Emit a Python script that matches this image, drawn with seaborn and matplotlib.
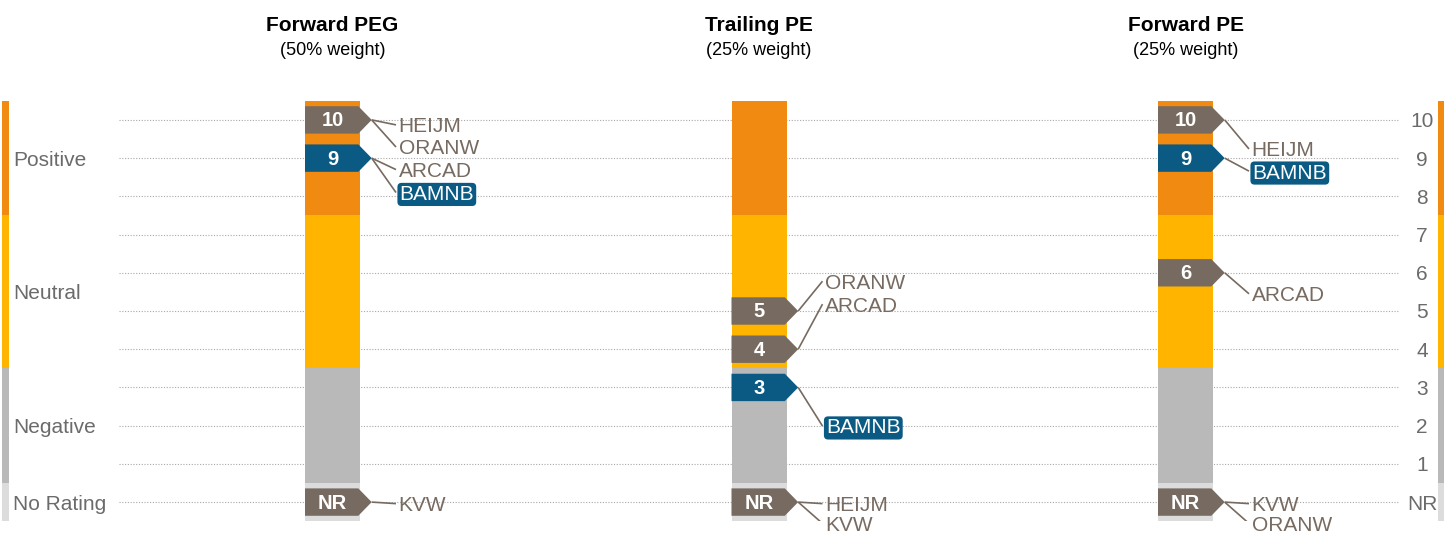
import matplotlib.pyplot as plt
import numpy as np
import pandas as pd
import seaborn as sns
from matplotlib.path import Path

sns.set_theme(style="white")
plt.rcParams["font.family"] = ["Liberation Sans", "DejaVu Sans"]

columns = ["Forward PEG", "Trailing PE", "Forward PE"]
weights = ["(50% weight)", "(25% weight)", "(25% weight)"]

bands = ["No Rating", "Negative", "Neutral", "Positive"]
band_lo = [-0.5, 0.5, 3.5, 7.5]
band_hi = [0.5, 3.5, 7.5, 10.5]
band_colors = ["#dcdcdc", "#b9b9b9", "#ffb400", "#f08a10"]

score_ticks = ["NR", "1", "2", "3", "4", "5", "6", "7", "8", "9", "10"]

# score of each ticker per metric, 0 = not rated
tickers = ["HEIJM", "ORANW", "ARCAD", "BAMNB", "KVW"]
forward_peg = [10, 10, 9, 9, 0]
trailing_pe = [0, 5, 4, 3, 0]
forward_pe = [10, 0, 6, 9, 0]
highlight = "BAMNB"

# where the name labels sit (y, in score units) - layout only
label_y = [
    {"HEIJM": 9.87, "ORANW": 9.29, "ARCAD": 8.70, "BAMNB": 8.10, "KVW": -0.04},
    {"ORANW": 5.78, "ARCAD": 5.18, "BAMNB": 1.99, "HEIJM": -0.04, "KVW": -0.56},
    {"HEIJM": 9.24, "BAMNB": 8.66, "ARCAD": 5.45, "KVW": -0.04, "ORANW": -0.56},
]

brown = "#776a60"
blue = "#0b5a84"
text_grey = "#6b6b6b"

px = 426.5  # pixels per column unit
xmin, xmax = -332.5 / px, (1444 - 332.5) / px
dy = 0.05  # nudge so capitals sit centred on their line

fig = plt.figure(figsize=(14.44, 5.34), dpi=100)
ax = fig.add_axes([0, 12.8 / 534, 1, 420.4 / 534])

ax.hlines(range(0, 11), -0.5, 2.5, colors="#a8a8a8", linestyles=(0, (1, 1.5)),
          linewidth=0.8, zorder=0)

for lo, hi, c in zip(band_lo, band_hi, band_colors):
    sns.barplot(x=[0, 1, 2], y=[hi - lo] * 3, bottom=lo, native_scale=True,
                width=55 / px, color=c, saturation=1, errorbar=None,
                linewidth=0, zorder=1, ax=ax)
    # colour key strips at both edges
    ax.bar([xmin + 2 / px, xmax - 6 / px], hi - lo, bottom=lo, width=6.5 / px,
           align="edge", color=c, linewidth=0, clip_on=False)

for lab, lo, hi in zip(bands, band_lo, band_hi):
    ax.text(xmin + 13 / px, (lo + hi) / 2 - dy, lab, ha="left", va="center",
            fontsize=15, color=text_grey)

for v, lab in enumerate(score_ticks):
    ax.text((1422 - 332.5) / px, v - dy, lab, ha="center", va="center",
            fontsize=15, color=text_grey)

for i, (col, w) in enumerate(zip(columns, weights)):
    ax.text(i, 12.48, col, ha="center", va="center", fontsize=15,
            fontweight="bold", color="black", clip_on=False)
    ax.text(i, 11.82, w, ha="center", va="center", fontsize=13,
            color="black", clip_on=False)

# arrow-shaped markers
arrow = Path([(-27.5, 13.7), (25.8, 13.7), (39.2, 0), (25.8, -13.7),
              (-27.5, -13.7), (-27.5, 13.7)], closed=True)
size_pt = 2 * 39.2 * 0.72

scores = pd.DataFrame({"ticker": tickers, columns[0]: forward_peg,
                       columns[1]: trailing_pe, columns[2]: forward_pe})
scores = scores.melt(id_vars="ticker", var_name="metric", value_name="score")
scores["col"] = scores["metric"].map({c: i for i, c in enumerate(columns)})
marks = scores.groupby(["col", "score"])["ticker"].apply(list).reset_index()
marks["kind"] = np.where(marks["ticker"].apply(lambda t: highlight in t),
                         "hi", "other")

sns.scatterplot(data=marks, x="col", y="score", hue="kind",
                palette={"hi": blue, "other": brown}, marker=arrow,
                s=size_pt ** 2, linewidth=0, legend=False, zorder=3, ax=ax)

for _, r in marks.iterrows():
    ax.text(r["col"], r["score"] - dy / 2,
            "NR" if r["score"] == 0 else str(r["score"]),
            ha="center", va="center", fontsize=14.5, fontweight="bold",
            color="white", zorder=4)

tip = 39.2 / px
for _, r in scores.iterrows():
    i, s, t = r["col"], r["score"], r["ticker"]
    ly = label_y[i][t]
    ax.plot([i + tip, i + 63.5 / px], [s, ly], color=brown, linewidth=1.2,
            zorder=3, solid_capstyle="butt")
    if t == highlight:
        ax.text(i + 67 / px, ly - dy, t, ha="left", va="center", fontsize=15,
                color="white", zorder=5, clip_on=False,
                bbox=dict(boxstyle="round,pad=0.1,rounding_size=0.2",
                          facecolor=blue, edgecolor="none"))
    else:
        ax.text(i + 66 / px, ly - dy, t, ha="left", va="center", fontsize=15,
                color=brown, zorder=5, clip_on=False)

ax.set_xlim(xmin, xmax)
ax.set_ylim(-0.5, 10.5)
ax.set_axis_off()

plt.savefig("out.png", dpi=100)
